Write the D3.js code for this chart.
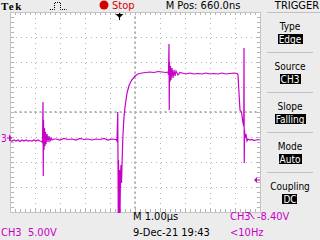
<!DOCTYPE html>
<html lang="es">
<head>
<meta charset="UTF-8">
<title>Osciloscopio CH3</title>
<style>
  body { margin: 0; background: #ececec; }
  svg { display: block; font-family: "Liberation Sans Narrow", "DejaVu Sans Condensed", "Liberation Sans", sans-serif; }
  .traza { fill: none; stroke: #c800c8; stroke-width: 1.2px; }
  .rejilla { stroke: #b4b4b4; stroke-width: 1px; stroke-dasharray: 1,4; shape-rendering: crispEdges; }
  .borde { fill: #ffffff; stroke: #c4c4c4; stroke-width: 1px; shape-rendering: crispEdges; }
  .marca { stroke: #b4b4b4; stroke-width: 1px; shape-rendering: crispEdges; }
  .txt { font-size: 11px; fill: #000; }
  .mag { fill: #c800c8; }
</style>
<script src="https://cdn.jsdelivr.net/npm/d3@7"></script>
<script>
// Traza CH3: tiempo en us desde el borde izquierdo de la pantalla y tension en V
var tiempos = [0, 0.08, 0.16, 0.24, 0.32, 0.40, 0.48, 0.56, 0.64, 0.72, 0.80, 0.88, 0.96, 1.04, 1.12, 1.20, 1.28,
  1.30, 1.32, 1.33, 1.34, 1.36, 1.38, 1.40, 1.42, 1.44, 1.48, 1.52, 1.56, 1.60, 1.64, 1.68, 1.76,
  1.84, 2.00, 2.16, 2.32, 2.48, 2.64, 2.80, 2.96, 3.12, 3.28, 3.44, 3.60, 3.76, 3.92, 4.08, 4.24,
  4.28, 4.31, 4.33, 4.34, 4.36, 4.38, 4.40, 4.42, 4.44, 4.46, 4.48, 4.51, 4.53, 4.56, 4.60, 4.64,
  4.69, 4.77, 4.87, 5.00, 5.12, 5.28, 5.44, 5.60, 5.76, 5.92, 6.08, 6.24, 6.32,
  6.34, 6.36, 6.37, 6.38, 6.40, 6.42, 6.44, 6.48, 6.52, 6.56, 6.60, 6.64, 6.72, 6.80,
  6.88, 7.04, 7.20, 7.36, 7.52, 7.68, 7.84, 8.00, 8.16, 8.32, 8.48, 8.64, 8.80, 8.96, 9.08,
  9.12, 9.16, 9.20, 9.26, 9.32, 9.35, 9.36, 9.37, 9.38, 9.40, 9.44, 9.48, 9.52, 9.60, 9.68,
  9.76, 9.84, 9.92, 10.00];
var voltios = [-0.5, -0.6, -0.4, -0.6, -0.4, -0.7, -0.4, -0.6, -0.4, -0.6, -0.5, -0.6, -0.4, -0.6, -0.4, -0.6, -0.7,
  -1.0, 7.2, -7.6, 3.6, -2.4, 2.0, -1.6, 1.2, -1.2, 0.8, -0.8, 0.4, -0.6, 0, -0.4, -0.2,
  -0.2, -0.4, -0.1, -0.3, -0.2, -0.4, -0.1, -0.3, -0.2, -0.4, -0.2, -0.3, -0.1, -0.4, -0.2, -0.3,
  -0.6, 5.2, -15, -4.4, -15, -6.4, -15, -7.4, -5.4, -9.0, -5.4, -0.4, 1.6, 4.2, 6.2, 7.6,
  9.2, 10.6, 11.6, 12.4, 12.8, 13.0, 13.1, 13.2, 13.1, 13.3, 13.2, 13.1, 13.2,
  12.6, 18.8, 5.6, 15.2, 11.2, 14.4, 11.6, 14.0, 12.0, 13.6, 12.4, 13.4, 12.6, 13.1,
  13.0, 12.8, 13.0, 12.8, 12.9, 12.8, 13.0, 12.8, 12.9, 12.8, 13.0, 12.8, 12.9, 13.0, 12.9,
  12.6, 9.0, 5.6, 5.2, 3.0, 2.4, 18.0, -5.0, 1.6, 0, 0.8, -0.6, -0.2, -0.4, -0.3,
  -0.5, -0.4, -0.3, -0.4];

// Ajustes del canal y de la base de tiempos
var voltios_div = 5;          // CH3 5.00V
var us_div = 1;               // M 1.00us
var pos_tierra = -1.04;       // divisiones desde el centro
var nivel_disparo = -8.4;     // V
var pos_disparo = 4.34;       // us desde el borde izquierdo (M Pos 660.0ns)

// Textos de pantalla
var etiquetas_panel = ["Type", "Source", "Slope", "Mode", "Coupling"];
var valores_panel = ["Edge", "CH3", "Falling", "Auto", "DC"];
var textos_sup = ["Tek", "Stop", "M Pos: 660.0ns", "TRIGGER"];
var textos_inf = ["M 1.00\u00b5s", "9-Dec-21 19:43", "CH3  5.00V", "CH3", "-8.40V", "<10Hz"];

function grafico(){

  var ancho_svg = 320, alto_svg = 240;
  var izq = 10, dch = 260, sup = 12, inf = 212;

  var escala_x = d3.scaleLinear()
                   .domain([0, 10 * us_div])
                   .range([izq, dch]);
  var escala_y = d3.scaleLinear()
                   .domain([(-4 - pos_tierra) * voltios_div, (4 - pos_tierra) * voltios_div])
                   .range([inf, sup]);

  var svg = d3.select("body").append("svg")
              .attr("width", ancho_svg)
              .attr("height", alto_svg);

  svg.append("rect").attr("width", ancho_svg).attr("height", alto_svg).attr("fill", "#ececec");

  // Reticula
  svg.append("rect").attr("class", "borde")
     .attr("x", izq + 0.5).attr("y", sup + 0.5)
     .attr("width", dch - izq).attr("height", inf - sup);

  var divs_x = d3.range(1, 10).map(function(k){ return k * us_div; });
  var divs_y = d3.range(-3, 4).map(function(k){ return (k - pos_tierra) * voltios_div; });

  svg.selectAll(".vx").data(divs_x).enter().append("line")
     .attr("class", "rejilla")
     .attr("x1", function(d){ return Math.round(escala_x(d)) + 0.5; })
     .attr("x2", function(d){ return Math.round(escala_x(d)) + 0.5; })
     .attr("y1", sup + 1).attr("y2", inf);
  svg.selectAll(".hy").data(divs_y).enter().append("line")
     .attr("class", "rejilla")
     .attr("y1", function(d){ return Math.round(escala_y(d)) + 0.5; })
     .attr("y2", function(d){ return Math.round(escala_y(d)) + 0.5; })
     .attr("x1", izq + 1).attr("x2", dch);

  // Marcas menores en los bordes y en los ejes centrales
  var menores_x = d3.range(1, 50).map(function(k){ return k * us_div / 5; });
  var menores_y = d3.range(1, 40).map(function(k){ return escala_y.domain()[0] + k * voltios_div / 5; });
  var cx = Math.round(escala_x(5 * us_div)), cy = Math.round(escala_y(-pos_tierra * voltios_div));
  menores_x.forEach(function(d){
    var x = Math.round(escala_x(d)) + 0.5;
    svg.append("line").attr("class", "marca").attr("x1", x).attr("x2", x).attr("y1", sup + 1).attr("y2", sup + 3);
    svg.append("line").attr("class", "marca").attr("x1", x).attr("x2", x).attr("y1", inf - 3).attr("y2", inf);
    svg.append("rect").attr("fill", "#b4b4b4").attr("x", x - 1).attr("y", cy - 1).attr("width", 2).attr("height", 2);
  });
  menores_y.forEach(function(d){
    var y = Math.round(escala_y(d)) + 0.5;
    svg.append("line").attr("class", "marca").attr("y1", y).attr("y2", y).attr("x1", izq + 1).attr("x2", izq + 4);
    svg.append("line").attr("class", "marca").attr("y1", y).attr("y2", y).attr("x1", dch - 3).attr("x2", dch);
    svg.append("rect").attr("fill", "#b4b4b4").attr("y", y - 1).attr("x", cx - 1).attr("width", 2).attr("height", 2);
  });

  // Traza
  var datos = tiempos.map(function(t, i){ return {t: t, v: voltios[i]}; });
  svg.append("clipPath").attr("id", "recorte").append("rect")
     .attr("x", izq).attr("y", sup).attr("width", dch - izq).attr("height", inf - sup + 1);
  var valorlinea = d3.line()
                     .x(function(d){ return escala_x(d.t); })
                     .y(function(d){ return escala_y(d.v); });
  svg.append("path").datum(datos)
     .attr("class", "traza")
     .attr("clip-path", "url(#recorte)")
     .attr("d", valorlinea);

  // Marcador de tierra "3" a la izquierda
  var yt = escala_y(0);
  svg.append("text").attr("class", "txt mag").attr("x", 1).attr("y", yt + 4).style("font-size", "10px").text("3");
  svg.append("path").attr("fill", "#c800c8")
     .attr("d", "M7," + (yt - 0.5) + "h2v-3l3,3.5l-3,3.5v-3h-2z");

  // Marcador del nivel de disparo a la derecha
  var yd = escala_y(nivel_disparo);
  svg.append("path").attr("fill", "#c800c8")
     .attr("d", "M254," + yd + "l3,-3v2.5h3v1h-3v2.5z");

  // Marcador de la posicion de disparo arriba
  var xd = Math.round(escala_x(pos_disparo)) + 0.5;
  svg.append("path").attr("fill", "#000")
     .attr("d", "M" + (xd - 4) + ",14h8l-4,4z");
  svg.append("line").attr("stroke", "#000").attr("x1", xd).attr("x2", xd).attr("y1", 13).attr("y2", 20);

  // Barra superior
  svg.append("text").attr("x", 1).attr("y", 10)
     .style("font-family", "'Liberation Serif', serif").style("font-weight", "bold").style("font-size", "11px")
     .style("letter-spacing", "1.5px").text(textos_sup[0]);
  svg.append("path").attr("fill", "none").attr("stroke", "#000").attr("stroke-dasharray", "1,1")
     .attr("d", "M50,9.5h4.5v-7h6v7h6");
  svg.append("circle").attr("cx", 104).attr("cy", 5).attr("r", 4.5).attr("fill", "#d40000");
  svg.append("text").attr("class", "txt").attr("x", 112).attr("y", 9).style("fill", "#d40000").text(textos_sup[1]);
  svg.append("text").attr("class", "txt").attr("x", 203).attr("y", 9).attr("text-anchor", "middle").text(textos_sup[2]);
  svg.append("text").attr("class", "txt").attr("x", 297).attr("y", 9).attr("text-anchor", "middle").text(textos_sup[3]);

  // Panel derecho
  svg.append("line").attr("stroke", "#c0c0c0").attr("x1", 267).attr("x2", 320).attr("y1", 12.5).attr("y2", 12.5);
  etiquetas_panel.forEach(function(et, i){
    var base = 30 + 40 * i;
    svg.append("text").attr("class", "txt").attr("x", 290).attr("y", base)
       .attr("text-anchor", "middle").style("font-size", "10px").text(et);
    var t = svg.append("text").attr("x", 290).attr("y", base + 12.5)
       .attr("text-anchor", "middle").style("font-size", "10px").attr("fill", "#fff").text(valores_panel[i]);
    var bb = t.node().getBBox();
    svg.insert("rect", function(){ return t.node(); })
       .attr("x", Math.round(bb.x) - 1).attr("y", base + 4).attr("width", Math.round(bb.width) + 2).attr("height", 10)
       .attr("fill", "#000");
    if (i > 0) {
      svg.append("line").attr("stroke", "#c0c0c0").attr("x1", 267).attr("x2", 313)
         .attr("y1", base - 17.5).attr("y2", base - 17.5);
    }
  });

  // Barra inferior
  svg.append("text").attr("class", "txt").attr("x", 133).attr("y", 220).text(textos_inf[0]);
  svg.append("text").attr("class", "txt").attr("x", 133).attr("y", 236).text(textos_inf[1]);
  svg.append("text").attr("class", "txt mag").attr("x", 1).attr("y", 236).style("white-space", "pre").text(textos_inf[2]);
  svg.append("text").attr("class", "txt mag").attr("x", 230).attr("y", 220).text(textos_inf[3]);
  svg.append("path").attr("fill", "none").attr("stroke", "#c800c8")
     .attr("d", "M247.5,212.5h2l4,6h1");
  svg.append("text").attr("class", "txt mag").attr("x", 257).attr("y", 220).text(textos_inf[4]);
  svg.append("text").attr("class", "txt mag").attr("x", 230).attr("y", 236).text(textos_inf[5]);
}
</script>
</head>
<body onload="grafico()">
</body>
</html>
